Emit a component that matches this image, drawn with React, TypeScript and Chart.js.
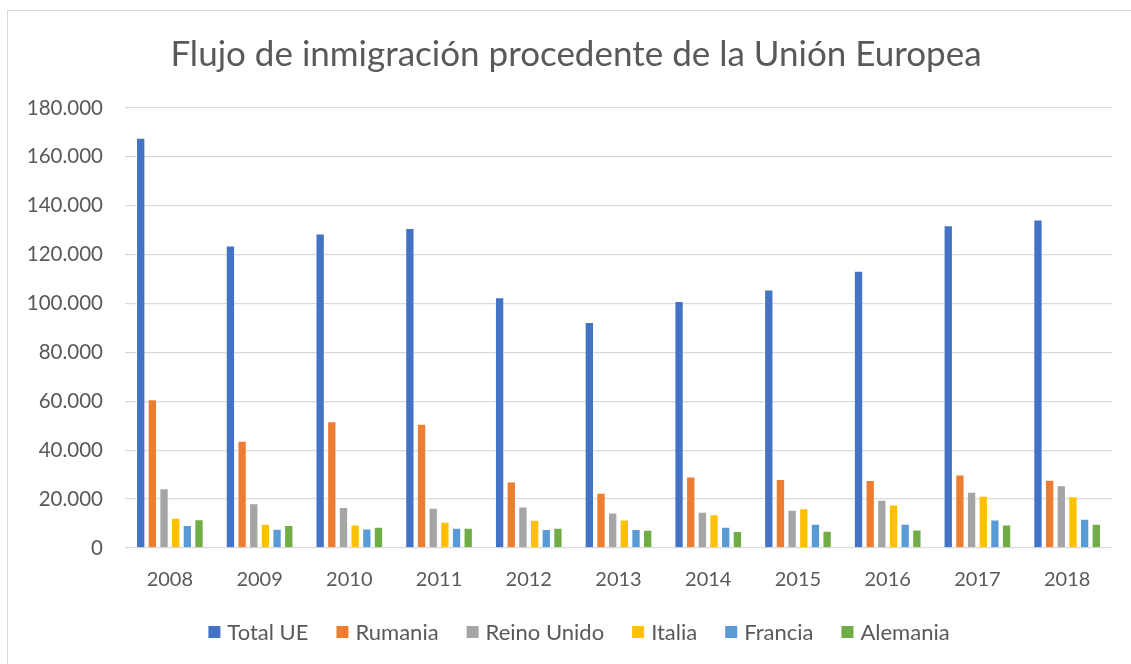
import React, { useEffect, useRef } from "react";
import { Chart, registerables } from "chart.js";

Chart.register(...registerables);

const years = ["2008", "2009", "2010", "2011", "2012", "2013", "2014", "2015", "2016", "2017", "2018"];
const totalUE = [167800, 123700, 128700, 130900, 102600, 92500, 101000, 105700, 113400, 132000, 134400];
const rumania = [60900, 43900, 51900, 50800, 27200, 22600, 29300, 28200, 27800, 30100, 27900];
const reinoUnido = [24400, 18300, 16800, 16500, 17000, 14500, 14800, 15600, 19700, 23000, 25700];
const italia = [12400, 9900, 9600, 10700, 11600, 11700, 13800, 16300, 17800, 21400, 21200];
const francia = [9400, 7900, 8000, 8300, 7800, 7800, 8700, 9900, 9900, 11700, 12000];
const alemania = [11800, 9400, 8700, 8300, 8300, 7500, 7000, 7100, 7600, 9600, 9900];

const seriesNames = ["Total UE", "Rumania", "Reino Unido", "Italia", "Francia", "Alemania"];
const seriesColors = ["#4472C4", "#ED7D31", "#A5A5A5", "#FFC000", "#5B9BD5", "#70AD47"];
const titleText = "Flujo de inmigración procedente de la Unión Europea";

const FONT = "Lato, 'Open Sans', sans-serif";
const TEXT = "#595959";

function fmt(v: number): string {
  const s = Math.round(v).toString();
  return s.replace(/\B(?=(\d{3})+(?!\d))/g, ".");
}

const titleLegendPlugin = {
  id: "titleLegend",
  afterDraw(chart: any) {
    const ctx = chart.ctx;
    ctx.save();
    ctx.fillStyle = TEXT;
    ctx.font = `35px ${FONT}`;
    ctx.textAlign = "center";
    ctx.textBaseline = "middle";
    ctx.fillText(titleText, 576, 55);

    ctx.font = `22px ${FONT}`;
    ctx.textAlign = "left";
    const box = 12;
    const gap = 7;
    const spacing = 28;
    const widths = seriesNames.map((n) => ctx.measureText(n).width);
    let total = 0;
    widths.forEach((w, i) => {
      total += box + gap + w + (i < widths.length - 1 ? spacing : 0);
    });
    let x = 579 - total / 2;
    const y = 632;
    seriesNames.forEach((n, i) => {
      ctx.fillStyle = seriesColors[i];
      ctx.fillRect(x, y - box / 2, box, box);
      ctx.fillStyle = TEXT;
      ctx.fillText(n, x + box + gap, y + 1);
      x += box + gap + widths[i] + spacing;
    });
    ctx.restore();
  },
};

export default function App() {
  const canvasRef = useRef<HTMLCanvasElement | null>(null);

  useEffect(() => {
    document.body.style.margin = "0";
    const canvas = canvasRef.current;
    if (!canvas) return;
    const data = [totalUE, rumania, reinoUnido, italia, francia, alemania];
    const chart = new Chart(canvas, {
      type: "bar",
      data: {
        labels: years,
        datasets: seriesNames.map((name, i) => ({
          label: name,
          data: data[i],
          backgroundColor: seriesColors[i],
          borderColor: "rgba(255,255,255,0.35)",
          borderWidth: 1,
          categoryPercentage: 0.78,
          barPercentage: 0.8,
        })),
      },
      options: {
        responsive: false,
        maintainAspectRatio: false,
        animation: false,
        layout: { padding: { top: 108, left: 0, right: 19, bottom: 0 } },
        plugins: {
          legend: { display: false },
          title: { display: false },
          tooltip: { enabled: false },
        },
        scales: {
          x: {
            grid: { display: false, drawTicks: false },
            border: { display: false },
            ticks: { color: TEXT, font: { family: FONT, size: 20 }, padding: 20 },
            afterFit(scale: any) {
              scale.height = 116;
            },
          },
          y: {
            min: 0,
            max: 180000,
            grid: { color: "#d9d9d9", lineWidth: 1.3, drawTicks: false },
            border: { display: false },
            ticks: {
              stepSize: 20000,
              color: TEXT,
              font: { family: FONT, size: 20.5 },
              padding: 22,
              callback: (v: any) => fmt(Number(v)),
            },
            afterFit(scale: any) {
              scale.width = 125;
            },
          },
        },
      },
      plugins: [titleLegendPlugin],
    });
    return () => chart.destroy();
  }, []);

  return (
    <div style={{ position: "relative", width: 1131, height: 664, background: "#fff", overflow: "hidden" }}>
      <div
        style={{
          position: "absolute",
          left: 7,
          top: 10,
          width: 1200,
          height: 700,
          borderLeft: "1.5px solid #d9d9d9",
          borderTop: "1.5px solid #d9d9d9",
          boxSizing: "border-box",
        }}
      />
      <canvas
        ref={canvasRef}
        width={1131}
        height={664}
        style={{ position: "absolute", left: 0, top: 0, width: 1131, height: 664 }}
      />
    </div>
  );
}
